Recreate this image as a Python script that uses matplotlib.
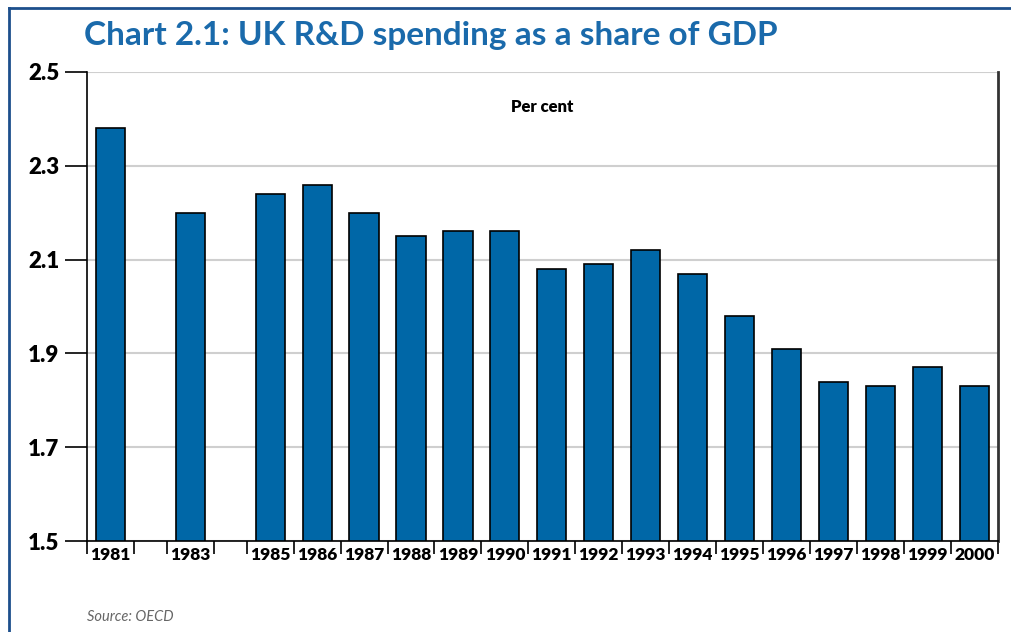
import numpy as np
import matplotlib.pyplot as plt
from matplotlib.lines import Line2D

plt.rcParams['font.family'] = ['Lato', 'DejaVu Sans']

# UK gross expenditure on R&D, per cent of GDP
years = [1981, 1983, 1985, 1986, 1987, 1988, 1989, 1990, 1991, 1992,
         1993, 1994, 1995, 1996, 1997, 1998, 1999, 2000]
rd_share = [2.38, 2.20, 2.24, 2.26, 2.20, 2.15, 2.16, 2.16, 2.08, 2.09,
            2.12, 2.07, 1.98, 1.91, 1.84, 1.83, 1.87, 1.83]
y_ticks = [1.5, 1.7, 1.9, 2.1, 2.3, 2.5]

BAR_BLUE = '#0067a7'
TITLE_BLUE = '#1a6aab'
FRAME_BLUE = '#1d4f8c'

# years without data get a narrower slot on the axis
slot_w = [1.0 if y in years else 0.7 for y in range(years[0], years[-1] + 1)]
edges = np.concatenate([[0], np.cumsum(slot_w)])
all_years = list(range(years[0], years[-1] + 1))
centers = {y: (edges[i] + edges[i + 1]) / 2 for i, y in enumerate(all_years)}
xpos = [centers[y] for y in years]

fig = plt.figure(figsize=(10.11, 6.32), dpi=100)
W, H = 1011, 632
ax = fig.add_axes([87 / W, 1 - 541 / H, (998 - 87) / W, (541 - 72) / H])

ax.bar(xpos, [v - 1.5 for v in rd_share], bottom=1.5, width=0.62,
       color=BAR_BLUE, edgecolor='black', linewidth=1.2, zorder=3)

ax.set_xlim(edges[0], edges[-1])
ax.set_ylim(1.5, 2.5)
ax.set_yticks(y_ticks)
ax.set_yticklabels([f'{t:.1f}' for t in y_ticks], fontsize=16, fontweight='heavy')
ax.tick_params(axis='y', length=16, width=1.2, pad=4)
ax.grid(axis='y', color='#cfcfcf', linewidth=1.5, zorder=0)

# year labels centred on bars, separators at slot edges
ax.set_xticks(edges, minor=False)
ax.set_xticklabels([])
ax.tick_params(axis='x', which='major', length=9, width=1.2, direction='out')
ax.set_xticks(xpos, minor=True)
ax.set_xticklabels([str(y) for y in years], minor=True,
                   fontsize=12.5, fontweight='heavy')
ax.tick_params(axis='x', which='minor', length=0, pad=4)

ax.spines['top'].set_visible(False)
ax.spines['left'].set_linewidth(1.2)
ax.spines['bottom'].set_linewidth(1.2)
ax.spines['right'].set_color('#333333')
ax.spines['right'].set_linewidth(2)

ax.text(0.5, 0.925, 'Per cent', transform=ax.transAxes, ha='center',
        va='center', fontsize=12, fontweight='heavy')

fig.text(84 / W, 1 - 35 / H, 'Chart 2.1: UK R&D spending as a share of GDP',
         color=TITLE_BLUE, fontsize=24, fontweight='bold', va='center')
fig.text(87 / W, 1 - 617 / H, 'Source: OECD', color='#666666',
         fontsize=10.5, style='italic', va='center')

# frame along the top and left edges
fig.add_artist(Line2D([9 / W, 1], [1 - 8 / H, 1 - 8 / H], color=FRAME_BLUE, linewidth=2))
fig.add_artist(Line2D([9 / W, 9 / W], [0, 1 - 8 / H], color=FRAME_BLUE, linewidth=2))

fig.savefig('out.png', dpi=100)
